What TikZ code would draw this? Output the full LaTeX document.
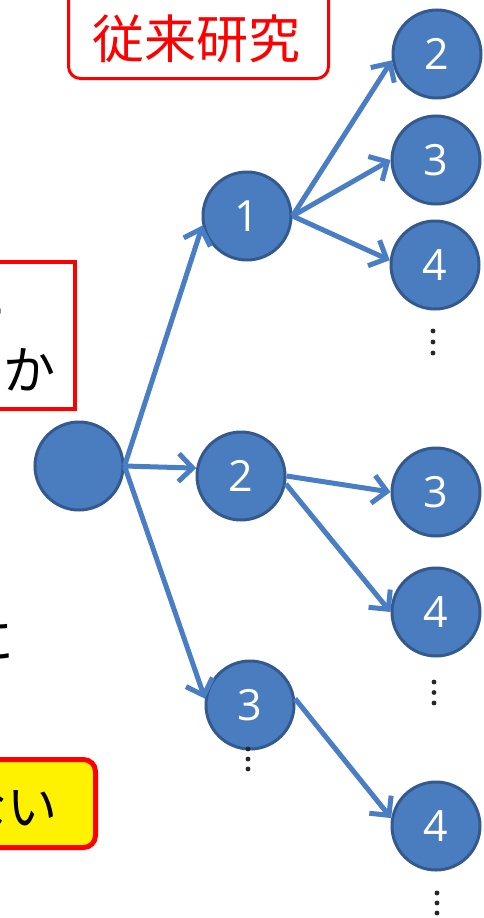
\documentclass[tikz,border=0pt]{standalone}
\usepackage{fontspec}
\newfontfamily\jpfont{Noto Sans CJK JP}
\newfontfamily\numfont{Open Sans}
\usetikzlibrary{arrows.meta}
\definecolor{nodeblue}{HTML}{4A7DC0}
\definecolor{nodeedge}{HTML}{33598F}
\definecolor{arrowblue}{HTML}{4A7EC4}
\begin{document}
\begin{tikzpicture}[x=1pt,y=-1pt,
  tnode/.style={circle, fill=nodeblue, draw=nodeedge, line width=3pt, minimum size=88pt, inner sep=0pt, text=white, font=\numfont\fontsize{43}{45}\selectfont},
  arr/.style={draw=arrowblue, line width=5pt, -{Straight Barb[length=14pt,width=28pt]}},
  dotc/.style={fill=black!85},
  jtext/.style={inner sep=0pt, font=\jpfont\fontsize{52}{60}\selectfont}]
\useasboundingbox (0,0) rectangle (484,918);
\fill[white] (0,0) rectangle (484,918);

% title box
\draw[red, line width=3pt, rounded corners=12pt] (68.5,-20) rectangle (328.5,78.5);
\node[jtext, text=red] (title) at (196,39) {従来研究};

% left box (cut off)
\draw[red, line width=4pt, fill=white] (-60,262) rectangle (75,409);
\node[jtext, anchor=east, text=black!70] (lineA) at (7,320) {ー};
\node[jtext, anchor=east] (lineB) at (56,370) {か};

% cut-off text
\node[jtext, anchor=east] (lineC) at (15,641) {に};

% yellow box
\draw[red, line width=5pt, fill=yellow, rounded corners=12pt] (-60,759.5) rectangle (95.5,847.5);
\node[jtext, anchor=east, font=\jpfont\fontsize{50}{60}\selectfont] (lineD) at (58,807) {ない};

% tree
\node[tnode] (r) at (79,466) {};
\node[tnode] (a1) at (247,216) {1};
\node[tnode] (a2) at (241,476) {2};
\node[tnode] (a3) at (250,705) {3};
\node[tnode] (b2) at (437,54) {2};
\node[tnode] (b3) at (436,160) {3};
\node[tnode] (b4) at (435,265) {4};
\node[tnode] (c3) at (436,492) {3};
\node[tnode] (c4) at (436,612) {4};
\node[tnode] (d4) at (436,826) {4};

\draw[arr] (r.east) -- (a1.192);
\draw[arr] (r.east) -- (a2.170);
\draw[arr] (r.east) -- (a3.172);
\draw[arr] (a1.east) -- (b2.188);
\draw[arr] (a1.east) -- (b3.west);
\draw[arr] (a1.east) -- (b4.174);
\draw[arr] (a2.east) -- (c3.west);
\draw[arr] (a2.-10) -- (c4.west);
\draw[arr] (a3.8) -- (d4.170);

% vertical ellipses
\foreach \y in {331,342,353} \fill[dotc] (433,\y) circle (2.4pt);
\foreach \y in {682,692.5,703} \fill[dotc] (434,\y) circle (2.4pt);
\foreach \y in {749,759,769} \fill[dotc] (248,\y) circle (2.4pt);
\foreach \y in {893,903,913} \fill[dotc] (437,\y) circle (2.4pt);
\end{tikzpicture}
\end{document}
